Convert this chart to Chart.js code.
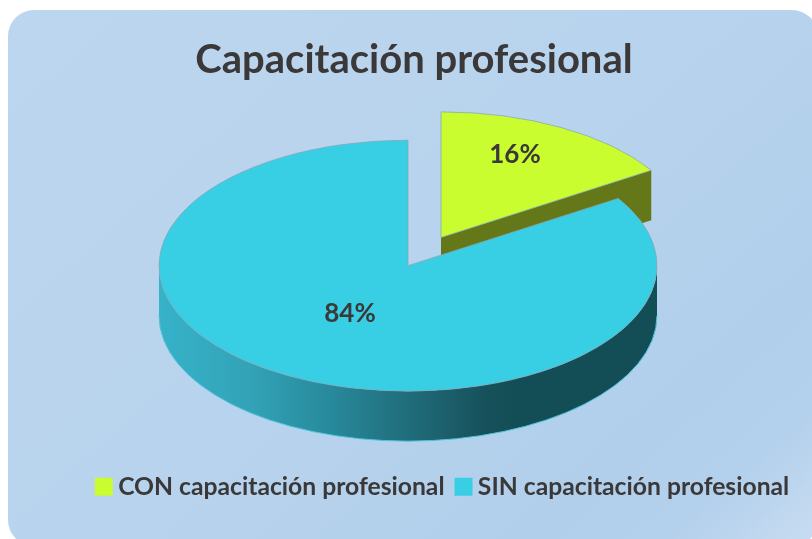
<!DOCTYPE html>
<html>
<head>
<meta charset="utf-8">
<style>html,body{margin:0;padding:0;background:#fff;overflow:hidden}canvas{display:block}</style>
<script src="https://cdn.jsdelivr.net/npm/chart.js@4"></script>
</head>
<body>
<canvas id="c" width="812" height="539"></canvas>
<script>
const categories = ['CON capacitación profesional', 'SIN capacitación profesional'];
const values = [16, 84];
const sliceColors = ['#c9fd2f', '#38cee4'];
const chartTitle = 'Capacitación profesional';
const labelNudge = [[14, -28], [2, -7]];
const pullX = [33, 0];
const pullY = [-56, 0];
const TILT = 0.504, DEPTH = 50, TEXT = '#3a3838';

function panel(ctx) {
  const g = ctx.createLinearGradient(8, 10, 620, 700);
  g.addColorStop(0, '#bdd6ef');
  g.addColorStop(0.5, '#b8d3ed');
  g.addColorStop(0.8, '#b1cfeb');
  g.addColorStop(0.9, '#b3d0ec');
  g.addColorStop(1, '#c6dbf1');
  ctx.fillStyle = g;
  ctx.beginPath();
  ctx.roundRect(8, 10, 810, 536, 26);
  ctx.fill();
}

const pie3d = {
  id: 'pie3d',
  beforeDraw(chart) { panel(chart.ctx); },
  afterLayout(chart) {
    chart.legend.left += 37.5; chart.legend.right += 37.5;
    chart.legend.top += 21; chart.legend.bottom += 21;
    chart.titleBlock.left += 6; chart.titleBlock.right += 6;
  },
  afterDatasetsUpdate(chart) {
    // pull the detached slice away from the centre
    chart.getDatasetMeta(0).data.forEach((a, i) => {
      a.x += pullX[i];
      a.y += pullY[i];
    });
  },
  beforeDatasetDraw(chart) {
    const ctx = chart.ctx, arcs = chart.getDatasetMeta(0).data;
    const a = arcs[0], b = arcs[1];
    ctx.save();
    // cut face of the detached slice
    const ax = a.x, ay = b.y + (a.y - b.y) * TILT;
    const ex = ax + Math.cos(a.endAngle) * a.outerRadius, ey = ay + Math.sin(a.endAngle) * a.outerRadius * TILT;
    ctx.fillStyle = '#64781a';
    ctx.beginPath();
    ctx.moveTo(ax, ay); ctx.lineTo(ex, ey); ctx.lineTo(ex, ey + DEPTH); ctx.lineTo(ax, ay + DEPTH);
    ctx.closePath(); ctx.fill();
    // outer rim of the large slice
    const rx = b.outerRadius, ry = rx * TILT;
    const s = Math.max(b.startAngle, 0), e = Math.min(b.endAngle, Math.PI);
    const g = ctx.createLinearGradient(b.x - rx, 0, b.x + rx, 0);
    [[0, '#36b2c9'], [0.18, '#33a3b7'], [0.33, '#288c9e'], [0.5, '#206d7b'], [0.65, '#17525c'], [0.72, '#134e57'], [1, '#134e57']]
      .forEach(p => g.addColorStop(p[0], p[1]));
    ctx.fillStyle = g;
    ctx.beginPath();
    ctx.ellipse(b.x, b.y, rx, ry, 0, s, e);
    ctx.ellipse(b.x, b.y + DEPTH, rx, ry, 0, e, s, true);
    ctx.closePath(); ctx.fill();
    ctx.strokeStyle = '#4fc6dc'; ctx.lineWidth = 1;
    ctx.beginPath();
    ctx.ellipse(b.x, b.y + DEPTH, rx, ry, 0, s, e);
    ctx.stroke();
    ctx.restore();
    // flatten the library's arcs
    ctx.save();
    ctx.translate(0, b.y);
    ctx.scale(1, TILT);
    ctx.translate(0, -b.y);
  },
  afterDatasetDraw(chart) { chart.ctx.restore(); },
  afterDatasetsDraw(chart) {
    const ctx = chart.ctx, arcs = chart.getDatasetMeta(0).data, cy = arcs[1].y;
    ctx.save();
    ctx.font = '700 26px Lato';
    ctx.fillStyle = TEXT;
    ctx.textAlign = 'center';
    ctx.textBaseline = 'middle';
    arcs.forEach((a, i) => {
      const mid = (a.startAngle + a.endAngle) / 2, r = a.outerRadius / 2;
      const x = a.x + Math.cos(mid) * r + labelNudge[i][0];
      const y = cy + (a.y - cy) * TILT + Math.sin(mid) * r * TILT + labelNudge[i][1];
      ctx.fillText(values[i] + '%', x, y);
    });
    ctx.restore();
  }
};

new Chart(document.getElementById('c'), {
  type: 'pie',
  data: {
    labels: categories,
    datasets: [{
      data: values,
      backgroundColor: sliceColors,
      borderColor: '#86a7b8',
      borderWidth: 1,
      clip: false
    }]
  },
  plugins: [pie3d],
  options: {
    responsive: false,
    animation: false,
    events: [],
    radius: 249,
    layout: { padding: { left: 4, right: 0, top: 20, bottom: 51 } },
    plugins: {
      tooltip: { enabled: false },
      title: {
        display: true,
        text: chartTitle,
        color: TEXT,
        font: { family: 'Lato', size: 40, weight: '700' },
        padding: { top: 16, bottom: 11 }
      },
      legend: {
        position: 'bottom',
        labels: {
          color: TEXT,
          font: { family: 'Lato', size: 24.7, weight: '700' },
          boxWidth: 4,
          boxHeight: 4,
          padding: 17,
          generateLabels(chart) {
            return Chart.overrides.doughnut.plugins.legend.labels.generateLabels(chart)
              .map(l => Object.assign(l, { lineWidth: 14, strokeStyle: l.fillStyle, lineJoin: 'miter' }));
          }
        }
      }
    }
  }
});
</script>
</body>
</html>
